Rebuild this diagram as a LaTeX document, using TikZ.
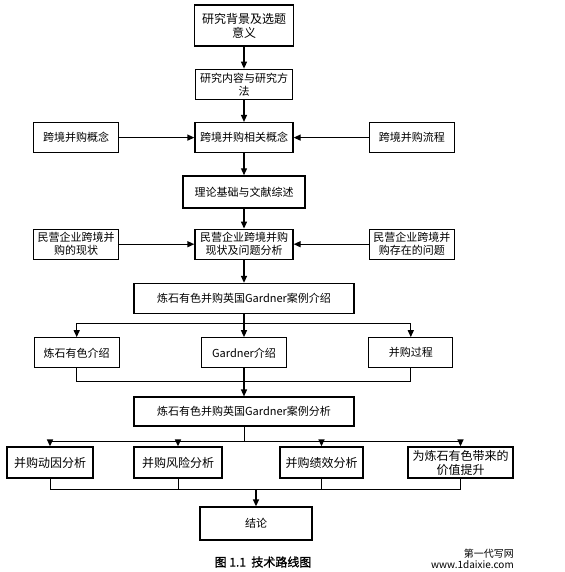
\documentclass[tikz,border=0pt]{standalone}
\usepackage{fontspec}
\newfontfamily\cjk{Noto Sans CJK SC}
\newfontfamily\cjkb[FakeBold=1.2]{Noto Sans CJK SC}
\usetikzlibrary{arrows.meta,positioning}
\tikzset{
  box/.style={draw,line width=1.3pt,align=center,inner sep=2pt,minimum height=30pt,
    font=\cjk\fontsize{11}{13}\selectfont},
  bigbox/.style={box,font=\cjk\fontsize{12}{14}\selectfont},
  arrow/.style={-{Triangle[length=7pt,width=6pt]},line width=1.3pt},
  line/.style={line width=1.3pt},
  thinline/.style={line width=0.6pt}
}

\begin{document}
\begin{tikzpicture}[x=1pt,y=-1pt,node distance=22pt and 75pt]
  \useasboundingbox (0,0) rectangle (564,572);
  \node[bigbox,minimum width=99pt,minimum height=41pt] (bg) at (244,25.5) {研究背景及选题\\意义};
  \node[box,minimum width=97pt,below=of bg] (method) {研究内容与研究方\\法};
  \node[box,minimum width=98pt,below=of method] (concept) {跨境并购相关概念};
  \node[box,minimum width=85pt,left=of concept] (conceptL) {跨境并购概念};
  \node[box,minimum width=85pt,right=of concept] (conceptR) {跨境并购流程};
  \node[box,minimum width=122pt,minimum height=32pt,below=of concept] (theory) {理论基础与文献综述};
  \node[box,minimum width=98pt,below=20pt of theory] (status) {民营企业跨境并购\\现状及问题分析};
  \node[box,minimum width=85pt,left=of status] (statusL) {民营企业跨境并\\购的现状};
  \node[box,minimum width=85pt,right=of status] (statusR) {民营企业跨境并\\购存在的问题};
  \node[box,minimum width=220pt,below=23pt of status] (intro) {炼石有色并购英国Gardner案例介绍};
  \node[box,minimum width=85pt,below=23pt of intro] (gardner) {Gardner介绍};
  \node[box,minimum width=85pt,left=81pt of gardner] (jssy) {炼石有色介绍};
  \node[box,minimum width=84pt,right=81pt of gardner] (process) {并购过程};
  \node[box,minimum width=220pt,minimum height=29pt,below=28pt of gardner] (analysis) {炼石有色并购英国Gardner案例分析};
  \node[bigbox,minimum width=86pt,minimum height=31pt] (motive) at (50,462.5) {并购动因分析};
  \node[bigbox,minimum width=88pt,minimum height=31pt] (risk) at (178,462.5) {并购风险分析};
  \node[bigbox,minimum width=83pt,minimum height=31pt] (perf) at (321.5,462.5) {并购绩效分析};
  \node[bigbox,minimum width=105pt,minimum height=31pt] (value) at (460.5,462.5) {为炼石有色带来的\\价值提升};
  \node[box,minimum width=112pt,minimum height=33pt] (concl) at (256,523.5) {结论};
  \node[font=\cjkb\fontsize{12}{14}\selectfont] (caption) at (263,562) {图 1.1\ \ 技术路线图};
  \node[font=\cjk\fontsize{10}{11.5}\selectfont,align=right,anchor=east,inner sep=0pt] (mark) at (514,559) {第一代写网\\www.1daixie.com};

  \coordinate[below=9pt of intro] (split1);
  \coordinate[below=13pt of gardner] (merge1);
  \coordinate[below=15pt of analysis] (split2);
  \coordinate[above=17pt of concl] (merge2);

  \draw[arrow] (bg) -- (method);
  \draw[arrow] (method) -- (concept);
  \draw[arrow] (conceptL) -- (concept);
  \draw[arrow] (conceptR) -- (concept);
  \draw[arrow] (concept) -- (theory);
  \draw[arrow] (theory) -- (status);
  \draw[arrow] (statusL) -- (status);
  \draw[arrow] (statusR) -- (status);
  \draw[arrow] (status) -- (intro);
  % 案例介绍分支
  \draw[arrow] (intro) -- (gardner);
  \draw[arrow] (split1) -| (jssy);
  \draw[arrow] (split1) -| (process);
  \draw[line] (jssy) |- (merge1) -| (process);
  \draw[arrow] (gardner) -- (analysis);
  % 案例分析分支
  \draw[thinline] (analysis) -- (split2);
  \draw[arrow] (split2) -| (motive);
  \draw[arrow] (split2) -| (risk);
  \draw[arrow] (split2) -| (perf);
  \draw[arrow] (split2) -| (value);
  \draw[thinline] (motive) -- (motive.south |- merge2);
  \draw[thinline] (risk) -- (risk.south |- merge2);
  \draw[thinline] (perf) -- (perf.south |- merge2);
  \draw[thinline] (value) -- (value.south |- merge2);
  \draw[line] (motive.south |- merge2) -- (value.south |- merge2);
  \draw[arrow] (merge2) -- (concl);
\end{tikzpicture}
\end{document}
